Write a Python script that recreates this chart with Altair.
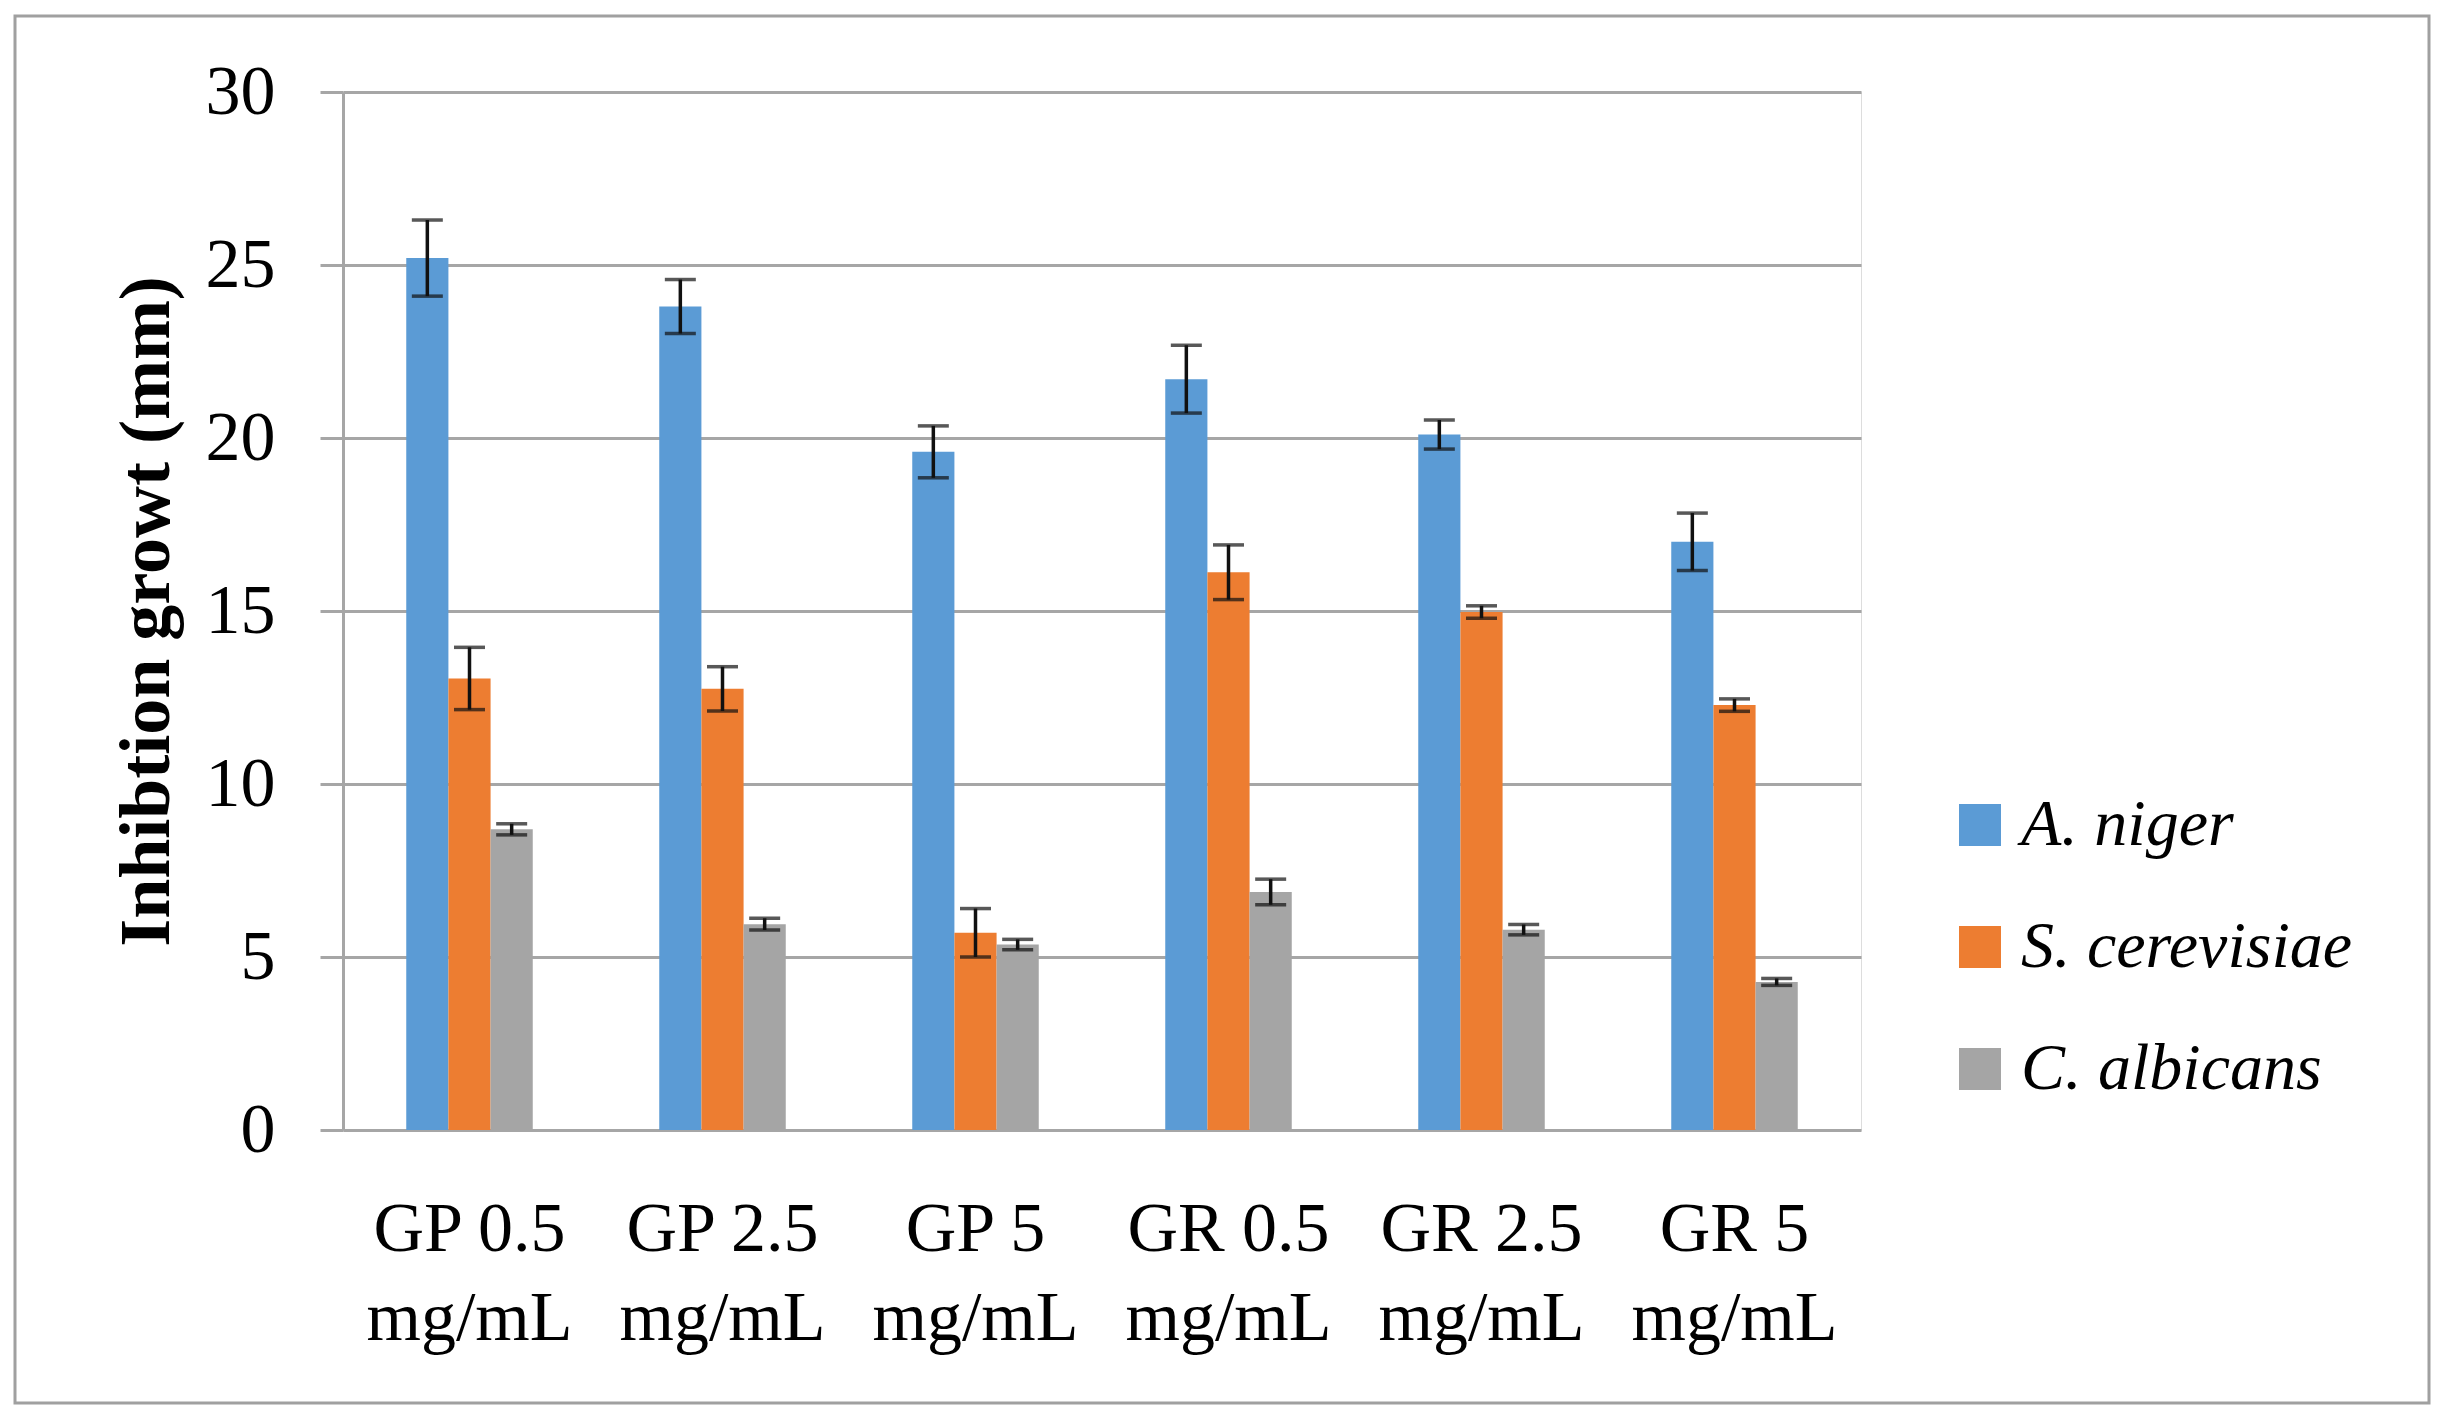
import altair as alt
import pandas as pd

categories = ["GP 0.5", "GP 2.5", "GP 5", "GR 0.5", "GR 2.5", "GR 5"]
species = ["A. niger", "S. cerevisiae", "C. albicans"]
colors = ["#5B9BD5", "#ED7D31", "#A5A5A5"]

a_niger = [25.2, 23.8, 19.6, 21.7, 20.1, 17.0]
a_niger_err = [1.1, 0.78, 0.75, 0.98, 0.42, 0.83]
s_cerevisiae = [13.05, 12.75, 5.7, 16.12, 14.97, 12.28]
s_cerevisiae_err = [0.9, 0.64, 0.7, 0.79, 0.18, 0.18]
c_albicans = [8.69, 5.95, 5.36, 6.88, 5.79, 4.28]
c_albicans_err = [0.16, 0.17, 0.15, 0.37, 0.15, 0.1]

rows = []
for sp, vals, errs in zip(species, [a_niger, s_cerevisiae, c_albicans],
                          [a_niger_err, s_cerevisiae_err, c_albicans_err]):
    for c, v, e in zip(categories, vals, errs):
        rows.append({"cat": c, "species": sp, "value": v, "err": e})
df = pd.DataFrame(rows)

FONT = "Liberation Serif"
GRID = "#a6a6a6"

x_enc = alt.X("cat:N", sort=categories,
              scale=alt.Scale(paddingInner=0.5, paddingOuter=0.25),
              axis=alt.Axis(title=None, labelAngle=0, domain=False, ticks=False,
                            labelFont=FONT, labelFontSize=70, labelColor="black",
                            labelPadding=65, labelLineHeight=89,
                            labelBaseline="top", labelLimit=0,
                            labelExpr="[datum.label, 'mg/mL']"))
xoff = alt.XOffset("species:N", sort=species,
                   scale=alt.Scale(paddingInner=0, paddingOuter=0))

base = alt.Chart(df)

bars = base.mark_bar().encode(
    x=x_enc,
    xOffset=xoff,
    y=alt.Y("value:Q", scale=alt.Scale(domain=[0, 30], nice=False),
            axis=alt.Axis(values=[0, 5, 10, 15, 20, 25, 30], title="Inhibtion growt (mm)",
                          grid=True, gridColor=GRID, gridWidth=3,
                          domain=True, domainColor=GRID, domainWidth=3,
                          ticks=True, tickColor=GRID, tickWidth=3, tickSize=23,
                          labelFont=FONT, labelFontSize=70, labelColor="black",
                          labelPadding=45, labelLimit=0,
                          titleFont=FONT, titleFontSize=72, titleFontWeight="bold",
                          titleColor="black", titleAngle=270,
                          titleX=-197, titleY=519, titleAlign="center",
                          titleBaseline="middle", titleLimit=0)),
    color=alt.Color("species:N", sort=species,
                    scale=alt.Scale(domain=species, range=colors),
                    legend=alt.Legend(title=None, orient="none", legendX=1604, legendY=700,
                                      symbolType="square", symbolSize=1764,
                                      symbolStrokeWidth=0, labelFont=FONT,
                                      labelFontSize=66, labelFontStyle="italic",
                                      labelColor="black", labelOffset=8, labelLimit=0,
                                      rowPadding=56, padding=0)),
)

err_base = base.transform_calculate(
    lo="datum.value - datum.err", hi="datum.value + datum.err")

err_rule = err_base.mark_rule(color="#111111", strokeWidth=3.5).encode(
    x=alt.X("cat:N", sort=categories), xOffset=xoff,
    y="lo:Q", y2="hi:Q")

cap_lo = err_base.mark_tick(color="#111111", thickness=3.5, size=31, orient="horizontal").encode(
    x=alt.X("cat:N", sort=categories), xOffset=xoff, y="lo:Q")
cap_hi = err_base.mark_tick(color="#111111", thickness=3.5, size=31, orient="horizontal").encode(
    x=alt.X("cat:N", sort=categories), xOffset=xoff, y="hi:Q")

frame = alt.Chart(pd.DataFrame({"k": [0]})).mark_rect(
    fill=None, stroke="#a0a0a0", strokeWidth=3).encode(
    x=alt.value(-328), x2=alt.value(2086), y=alt.value(-76), y2=alt.value(1311))

chart = alt.layer(frame, bars, err_rule, cap_lo, cap_hi).properties(
    width=1518, height=1038,
    autosize=alt.AutoSizeParams(type="none"),
    padding={"left": 335, "top": 84, "right": 573, "bottom": 282},
).configure_view(stroke=None).configure(background="white")

chart.save("out.html", embed_options={"renderer": "svg", "actions": False})
